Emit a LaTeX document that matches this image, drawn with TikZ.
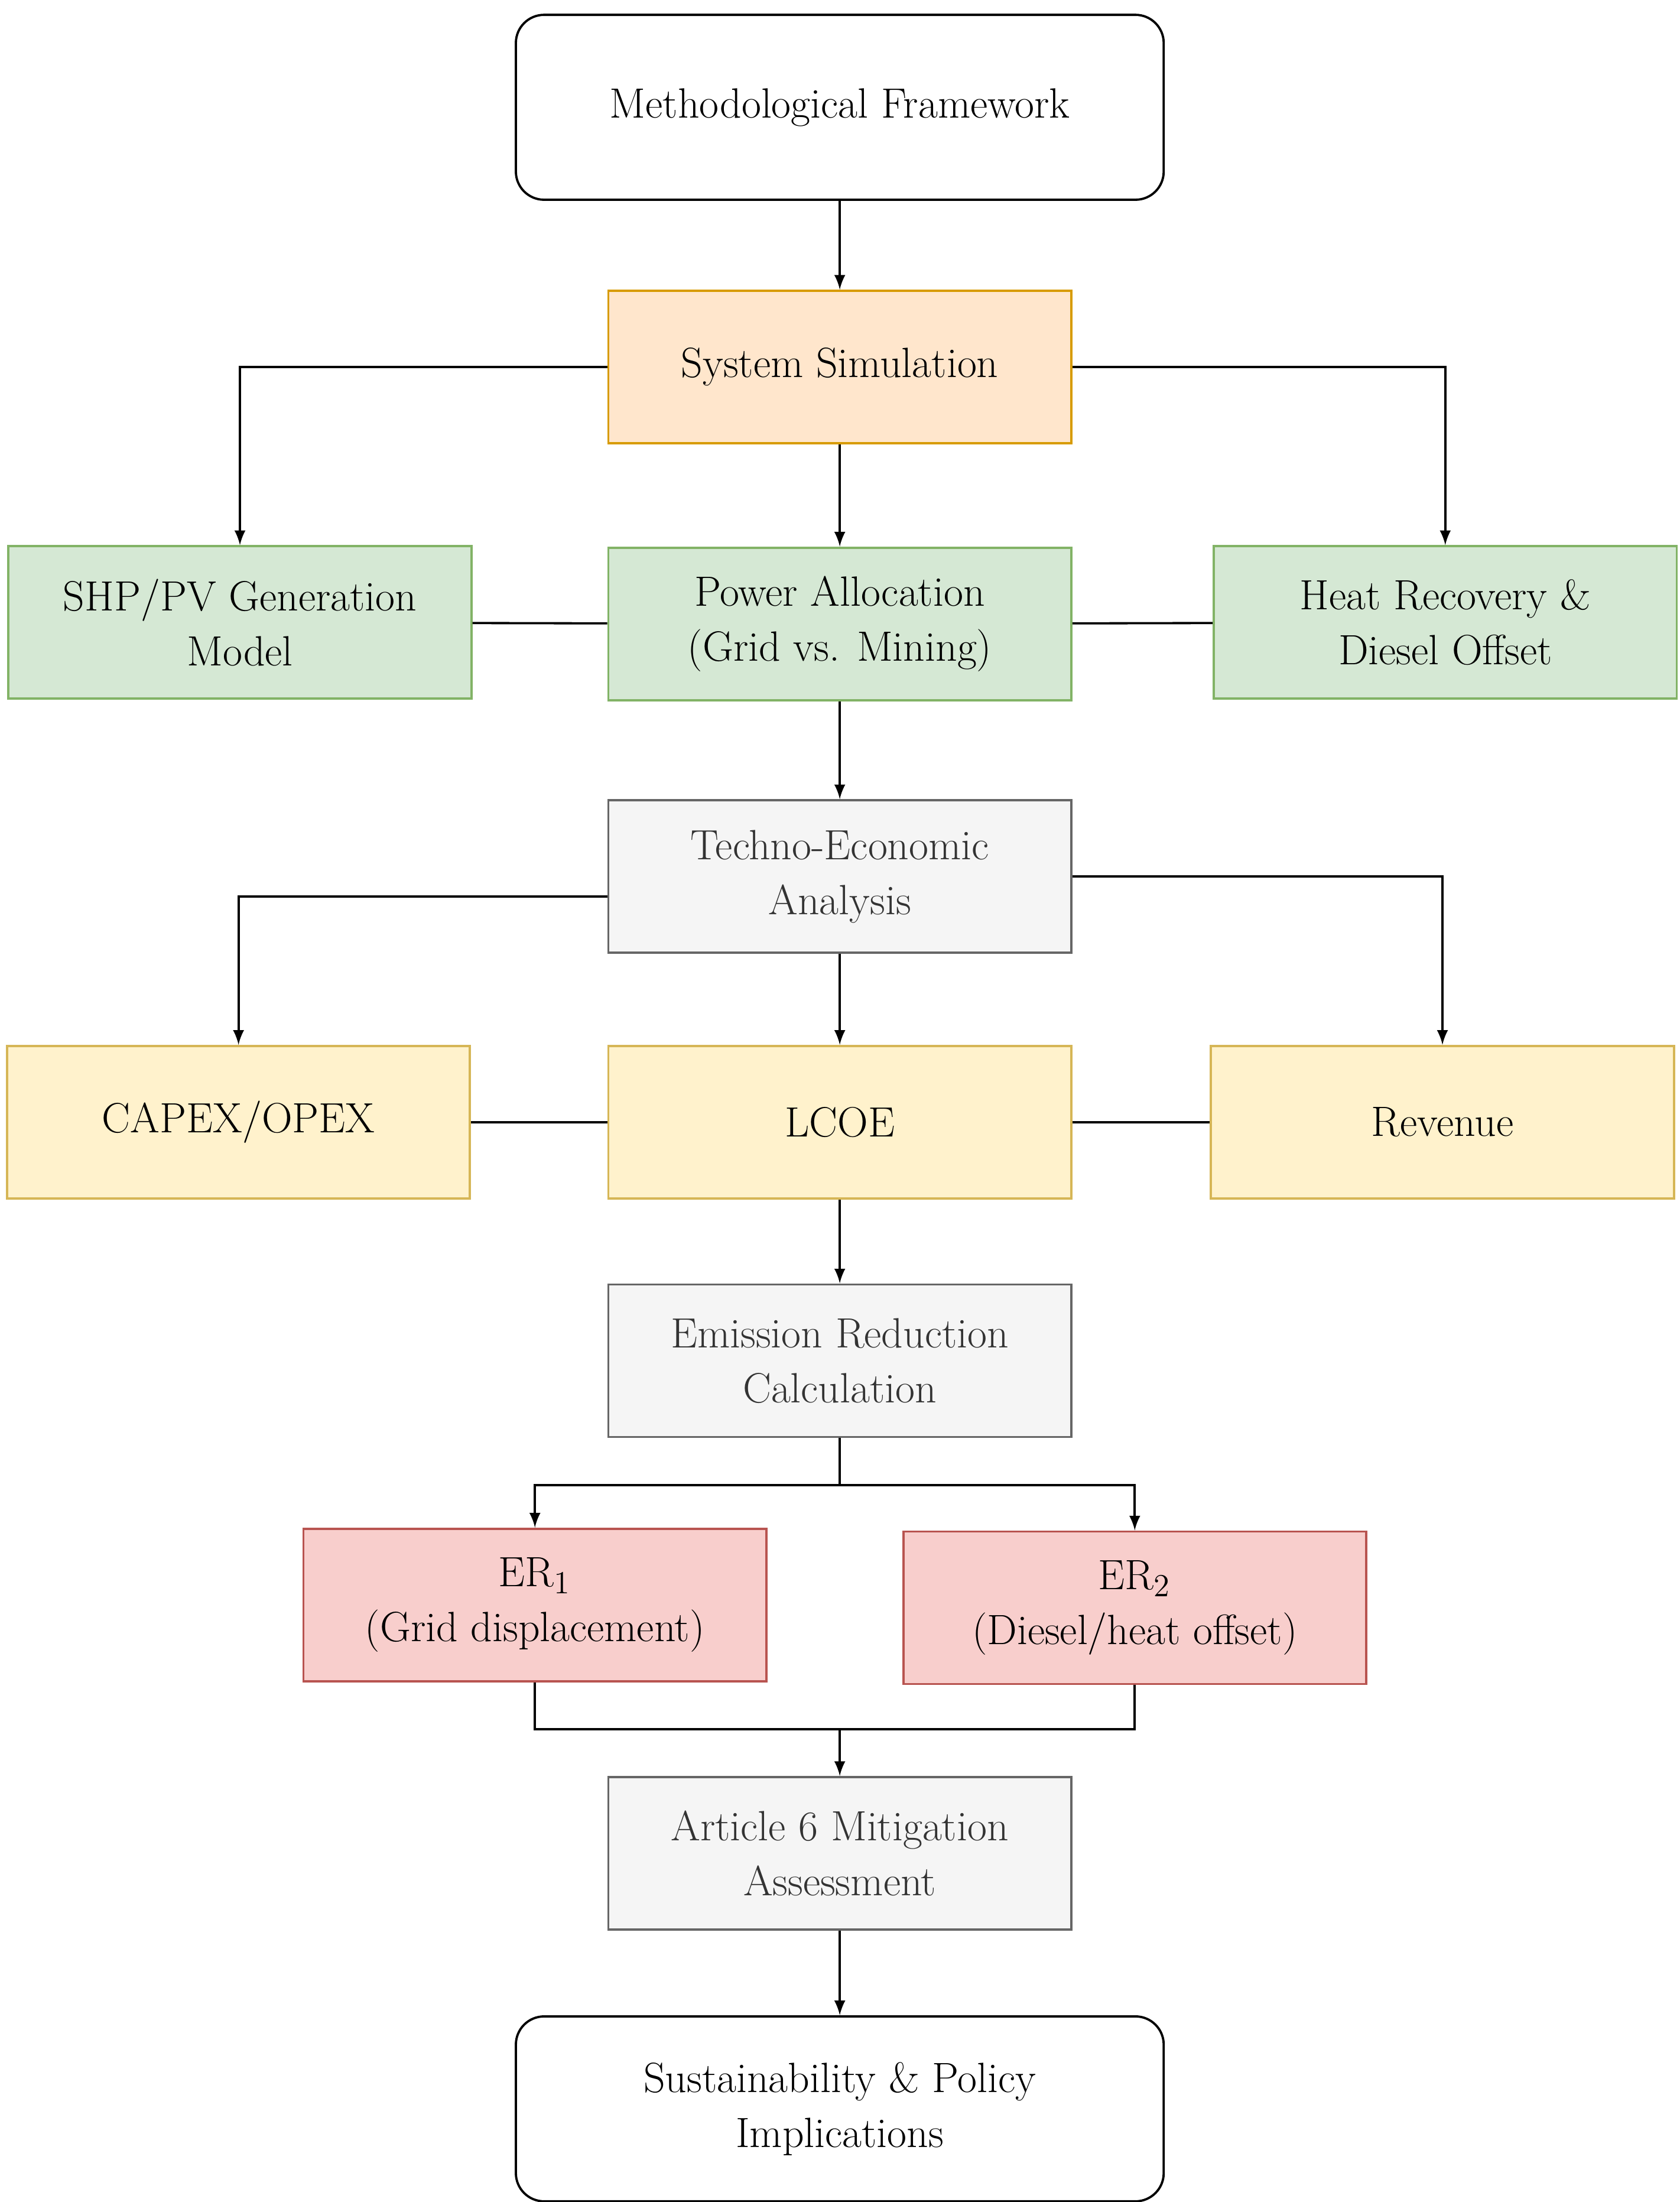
\documentclass[tikz,border=0pt]{standalone}
\usepackage{mathpazo}
\usetikzlibrary{positioning}
\definecolor{simfill}{RGB}{255,230,204}
\definecolor{simdraw}{RGB}{215,155,0}
\definecolor{genfill}{RGB}{213,232,212}
\definecolor{gendraw}{RGB}{130,179,102}
\definecolor{anafill}{RGB}{245,245,245}
\definecolor{anadraw}{RGB}{102,102,102}
\definecolor{anatext}{RGB}{51,51,51}
\definecolor{ecofill}{RGB}{255,242,204}
\definecolor{ecodraw}{RGB}{214,182,86}
\definecolor{erfill}{RGB}{248,206,204}
\definecolor{erdraw}{RGB}{184,84,80}
\tikzset{
  box/.style={draw,line width=0.8pt,minimum width=164pt,minimum height=54pt,align=center,
    font=\fontsize{15}{19.5}\selectfont\bfseries,inner sep=2pt},
  endbox/.style={box,rounded corners=10pt,minimum width=229.5pt,minimum height=65.5pt},
  simbox/.style={box,fill=simfill,draw=simdraw},
  genbox/.style={box,fill=genfill,draw=gendraw},
  anabox/.style={box,fill=anafill,draw=anadraw,text=anatext},
  ecobox/.style={box,fill=ecofill,draw=ecodraw},
  erbox/.style={box,fill=erfill,draw=erdraw},
  flow/.style={-latex,line width=0.8pt},
  link/.style={line width=0.8pt}
}
\begin{document}
\begin{tikzpicture}[x=0.5pt,y=-0.5pt]
        \useasboundingbox (0,0) rectangle (1190,1560);
        % Text Node
        \node [endbox] (frame) at (595,76) {Methodological Framework};
        % Text Node
        \node [simbox] (sim) at (595,260) {System Simulation};
        % Text Node
        \node [genbox] (gen) at (170,441) {SHP/PV Generation\\Model};
        \node [genbox] (alloc) at (595,442) {Power Allocation\\(Grid vs. Mining)};
        \node [genbox] (heat) at (1024,441) {Heat Recovery \&\\Diesel Offset};
        % Text Node
        \node [anabox] (tea) at (595,621) {Techno-Economic\\Analysis};
        % Text Node
        \node [ecobox] (capex) at (169,795) {CAPEX/OPEX};
        \node [ecobox] (lcoe) at (595,795) {LCOE};
        \node [ecobox] (rev) at (1022,795) {Revenue};
        % Text Node
        \node [anabox] (emis) at (595,964) {Emission Reduction\\Calculation};
        % Text Node
        \node [erbox] (er1) at (379,1137) {ER\textsubscript{1}\\(Grid displacement)};
        \node [erbox] (er2) at (804,1139) {ER\textsubscript{2}\\(Diesel/heat offset)};
        % Text Node
        \node [anabox] (art) at (595,1313) {Article 6 Mitigation\\Assessment};
        % Text Node
        \node [endbox] (impl) at (595,1494) {Sustainability \& Policy\\Implications};
        % Connection
        \draw [flow] (frame) -- (sim);
        \draw [flow] (sim) -- (alloc);
        \draw [flow] (sim.west) -| (gen.north);
        \draw [flow] (sim.east) -| (heat.north);
        \draw [link] (gen) -- (alloc);
        \draw [link] (alloc) -- (heat);
        % Connection
        \draw [flow] (alloc) -- (tea);
        \draw [flow] ([yshift=-7pt]tea.west) -| (capex.north);
        \draw [flow] (tea.east) -| (rev.north);
        \draw [flow] (tea) -- (lcoe);
        \draw [link] (capex) -- (lcoe);
        \draw [link] (lcoe) -- (rev);
        % Connection
        \draw [flow] (lcoe) -- (emis);
        \coordinate (split) at (595,1052);
        \draw [link] (emis.south) -- (split);
        \draw [flow] (split) -| (er1.north);
        \draw [flow] (split) -| (er2.north);
        % Connection
        \coordinate (merge) at (595,1225);
        \draw [link] (er1.south) |- (merge);
        \draw [link] (er2.south) |- (merge);
        \draw [flow] (merge) -- (art.north);
        \draw [flow] (art) -- (impl);
\end{tikzpicture}
\end{document}
